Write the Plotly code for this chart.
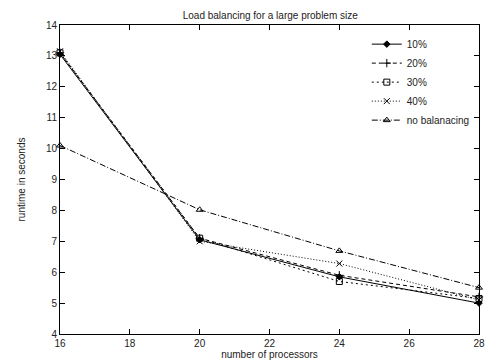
import plotly.graph_objects as go

processors = [16, 20, 24, 28]
series_names = ["10%", "20%", "30%", "40%", "no balanacing"]
runtime_10 = [13.05, 7.05, 5.85, 5.0]
runtime_20 = [13.1, 7.1, 5.9, 5.2]
runtime_30 = [13.1, 7.1, 5.7, 5.15]
runtime_40 = [13.15, 7.0, 6.28, 5.1]
runtime_nobal = [10.1, 8.02, 6.69, 5.5]

x_ticks = [16, 18, 20, 22, 24, 26, 28]
y_ticks = [4, 5, 6, 7, 8, 9, 10, 11, 12, 13, 14]

styles = [
    dict(dash="solid", symbol="diamond", size=5),
    dict(dash="4px,3px", symbol="cross-thin-open", size=6),
    dict(dash="2px,3px", symbol="square-open", size=6),
    dict(dash="1px,2px", symbol="x-thin-open", size=6),
    dict(dash="6px,2px,1px,2px", symbol="triangle-up-open", size=6),
]

data = [runtime_10, runtime_20, runtime_30, runtime_40, runtime_nobal]

fig = go.Figure()
for name, vals, st in zip(series_names, data, styles):
    fig.add_trace(go.Scatter(
        x=processors, y=vals, name=name, mode="lines+markers",
        line=dict(color="black", width=1, dash=st["dash"]),
        marker=dict(symbol=st["symbol"], size=st["size"], color="black",
                    line=dict(color="black", width=1)),
        cliponaxis=False,
    ))

font = dict(family="Liberation Sans, Arial", size=10, color="#222")

axis_common = dict(
    showgrid=False, zeroline=False, showline=True, linecolor="black", linewidth=1,
    mirror="ticks", ticks="inside", ticklen=5, tickcolor="black", tickwidth=1,
    tickfont=font, ticklabeloverflow="allow",
)

fig.update_layout(
    width=487, height=360,
    margin=dict(l=60, r=8, t=25, b=26, autoexpand=False),
    paper_bgcolor="white", plot_bgcolor="white",
    title=dict(text="Load balancing for a large problem size", x=0.555, xanchor="center",
               y=0.958, yanchor="middle", font=font),
    xaxis=dict(range=[16, 28], tickvals=x_ticks,
               title=dict(text="number of processors", standoff=0, font=font),
               **axis_common),
    yaxis=dict(range=[4, 14], tickvals=y_ticks,
               title=dict(text="runtime in seconds", standoff=18, font=font),
               **axis_common),
    legend=dict(x=0.99, xanchor="right", y=0.985, yanchor="top",
                bgcolor="rgba(0,0,0,0)", tracegroupgap=0, itemwidth=30,
                font=font),
    showlegend=True,
)

fig.write_html("out.html", config={"displayModeBar": False},
               post_script="document.body.style.margin='0';document.body.style.overflow='hidden';")
